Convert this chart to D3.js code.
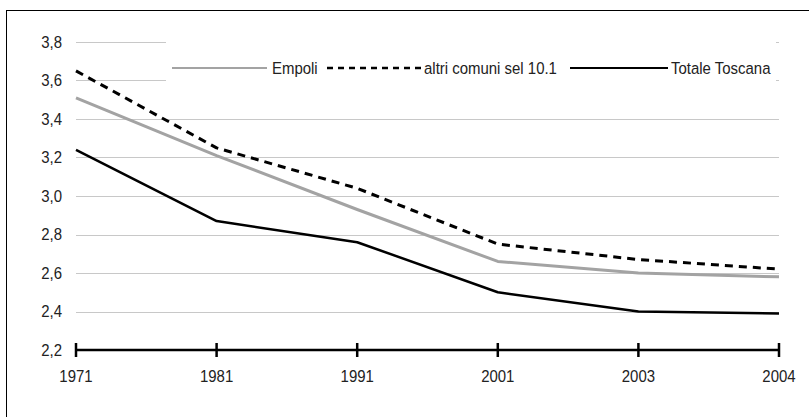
<!DOCTYPE html>
<html lang="it">
<head>
  <meta charset="UTF-8" />
  <title>Componenti medi per famiglia</title>
  <script src="https://d3js.org/d3.v7.min.js"></script>
  <style>
    body { margin: 0; background: #fff; }
    svg text { font-family: "Liberation Sans", Arial, sans-serif; font-size: 17px; fill: #222; }
  </style>
</head>
<body>
  <svg id="chart" width="809" height="417"></svg>
  <script>
    // Dati
    const years = ["1971", "1981", "1991", "2001", "2003", "2004"];
    const empoli = [3.51, 3.21, 2.93, 2.66, 2.60, 2.58];
    const altriComuni = [3.65, 3.25, 3.04, 2.75, 2.67, 2.62];
    const totaleToscana = [3.24, 2.87, 2.76, 2.50, 2.40, 2.39];
    const yTicks = [2.2, 2.4, 2.6, 2.8, 3.0, 3.2, 3.4, 3.6, 3.8];

    const series = [
      { name: "Empoli", values: empoli, color: "#a3a3a3", width: 3, dash: null },
      { name: "altri comuni sel 10.1", values: altriComuni, color: "#000", width: 3, dash: "8,6" },
      { name: "Totale Toscana", values: totaleToscana, color: "#000", width: 2.5, dash: null }
    ];

    const narrow = 0.88; // simula un carattere "narrow"
    const svg = d3.select("#chart");

    // testo compresso orizzontalmente
    function label(g, tx, ty, str, anchor) {
      return g.append("text")
        .attr("transform", `translate(${tx},${ty}) scale(${narrow},1)`)
        .attr("dy", "0.35em")
        .attr("text-anchor", anchor || "start")
        .text(str);
    }

    // cornice (solo bordo sinistro e superiore visibili)
    svg.append("rect")
      .attr("x", 6.5).attr("y", 10.5)
      .attr("width", 900).attr("height", 500)
      .attr("fill", "none").attr("stroke", "#000").attr("stroke-width", 1);

    const x = d3.scalePoint().domain(years).range([76, 779]);
    const y = d3.scaleLinear().domain([2.2, 3.8]).range([350, 42]);

    // griglia
    svg.append("g")
      .selectAll("line")
      .data(yTicks.slice(1))
      .enter().append("line")
      .attr("x1", 76).attr("x2", 779)
      .attr("y1", d => Math.round(y(d)) + 0.5)
      .attr("y2", d => Math.round(y(d)) + 0.5)
      .attr("stroke", "#c8c8c8").attr("stroke-width", 1);

    // etichette asse y
    const yLabels = svg.append("g");
    yTicks.forEach(d => label(yLabels, 62, y(d), d3.format(".1f")(d).replace(".", ","), "end"));

    // asse x
    const xAxis = svg.append("g").attr("transform", "translate(0,350)");
    xAxis.append("line")
      .attr("x1", x(years[0])).attr("x2", x(years[years.length - 1]))
      .attr("stroke", "#000").attr("stroke-width", 2.5);
    xAxis.selectAll(".tick")
      .data(years)
      .enter().append("line")
      .attr("x1", d => x(d)).attr("x2", d => x(d))
      .attr("y1", -7).attr("y2", 7)
      .attr("stroke", "#000").attr("stroke-width", 2.5);
    years.forEach(d => label(xAxis, x(d), 26, d, "middle"));

    // linee
    const line = d3.line()
      .x((d, i) => x(years[i]))
      .y(d => y(d));

    svg.append("g")
      .selectAll("path")
      .data(series)
      .enter().append("path")
      .attr("d", d => line(d.values))
      .attr("fill", "none")
      .attr("stroke", d => d.color)
      .attr("stroke-width", d => d.width)
      .attr("stroke-dasharray", d => d.dash)
      .attr("stroke-linejoin", "round");

    // legenda
    const legend = svg.append("g");
    legend.append("rect")
      .attr("x", 166).attr("y", 32)
      .attr("width", 610).attr("height", 62)
      .attr("fill", "#fff");

    const legendItems = [
      { s: series[0], x1: 172, x2: 267, tx: 272 },
      { s: series[1], x1: 327, x2: 421, tx: 424 },
      { s: series[2], x1: 570, x2: 668, tx: 671 }
    ];
    const ly = 68;
    legendItems.forEach(it => {
      legend.append("line")
        .attr("x1", it.x1).attr("x2", it.x2)
        .attr("y1", ly).attr("y2", ly)
        .attr("stroke", it.s.color)
        .attr("stroke-width", it.s.dash ? 2.5 : 2)
        .attr("stroke-dasharray", it.s.dash ? "6,5" : null);
      label(legend, it.tx, ly, it.s.name);
    });
  </script>
</body>
</html>
